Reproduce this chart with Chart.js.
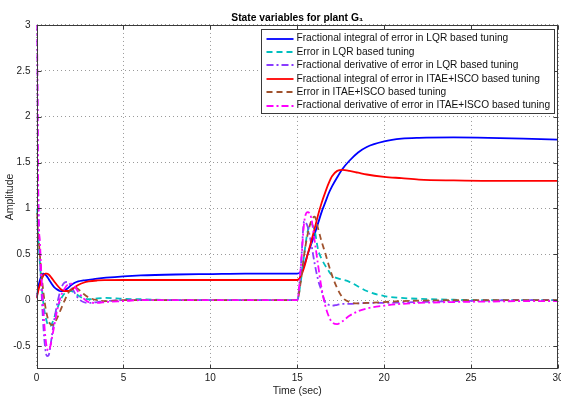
<!DOCTYPE html>
<html><head><meta charset="utf-8">
<script src="https://cdn.jsdelivr.net/npm/chart.js@4"></script>
<style>html,body{margin:0;padding:0;background:#fff;}canvas{display:block;}</style>
</head><body>
<canvas id="c" width="561" height="401"></canvas>
<script>
// time samples (seconds)
const timeSec = [0,0.05,0.1,0.2,0.3,0.4,0.5,0.6,0.7,0.8,0.9,
  1.0,1.2,1.4,1.6,1.8,2.0,2.2,2.4,2.7,3.0,
  3.5,4,5,6,8,10,12,
  15,15.2,15.4,15.6,15.8,16.0,
  16.2,16.4,16.6,16.8,17.0,17.3,17.6,18.0,
  18.5,19,20,21,22,24,26,28,30];

const fiLqr = [0.03,0.08,0.14,0.22,0.27,0.29,0.28,0.26,0.23,0.2,0.17,
  0.145,0.115,0.1,0.105,0.13,0.165,0.19,0.205,0.215,0.222,
  0.235,0.245,0.26,0.27,0.28,0.285,0.29,
  0.29,0.31,0.38,0.5,0.61,0.72,
  0.84,0.96,1.06,1.16,1.24,1.34,1.43,1.52,
  1.61,1.67,1.73,1.76,1.77,1.775,1.77,1.76,1.75];

const eLqr = [1.0,0.84,0.68,0.4,0.15,-0.04,-0.16,-0.24,-0.28,-0.28,-0.25,
  -0.2,-0.09,0.01,0.07,0.1,0.1,0.08,0.05,0.02,0.01,
  0.02,0.025,0.015,0.01,0,0,0,
  0,0.2,0.5,0.75,0.83,0.76,
  0.55,0.45,0.38,0.32,0.27,0.24,0.225,0.2,
  0.15,0.1,0.045,0.025,0.015,0.005,0,0,0];

const fdLqr = [3.5,2.3,1.2,0.45,0.05,-0.3,-0.52,-0.61,-0.6,-0.5,-0.37,
  -0.24,-0.03,0.12,0.19,0.2,0.15,0.08,0.02,-0.02,-0.03,
  -0.02,-0.01,0,0,0,0,0,
  0,0.35,0.86,0.8,0.62,0.4,
  0.22,0.1,-0.02,-0.05,-0.06,-0.05,-0.04,-0.04,
  -0.035,-0.03,-0.03,-0.025,-0.02,-0.01,-0.005,0,0];

const fiItae = [0.02,0.06,0.1,0.17,0.23,0.27,0.29,0.29,0.28,0.26,0.235,
  0.21,0.16,0.12,0.1,0.1,0.115,0.14,0.165,0.19,0.205,
  0.215,0.218,0.22,0.22,0.22,0.22,0.22,
  0.22,0.26,0.36,0.5,0.64,0.78,
  0.93,1.06,1.17,1.27,1.35,1.41,1.42,1.41,
  1.39,1.37,1.345,1.33,1.315,1.305,1.3,1.3,1.3];

const eItae = [0.95,0.85,0.72,0.48,0.26,0.08,-0.06,-0.16,-0.23,-0.26,-0.27,
  -0.26,-0.19,-0.1,-0.01,0.07,0.12,0.14,0.12,0.07,0.03,
  0,-0.01,0,0,0,0,0,
  0,0.2,0.5,0.72,0.86,0.91,
  0.78,0.64,0.52,0.39,0.27,0.13,0.03,-0.02,
  -0.035,-0.03,-0.02,-0.01,-0.005,0,0,0,0];

const fdItae = [3.5,2.5,1.1,0.62,0.2,-0.12,-0.38,-0.52,-0.55,-0.5,-0.4,
  -0.3,-0.1,0.04,0.12,0.17,0.18,0.15,0.09,0.02,-0.02,
  -0.03,-0.02,-0.01,0,0,0,0,
  0,0.35,0.85,0.96,0.9,0.65,
  0.38,0.13,-0.05,-0.17,-0.24,-0.26,-0.23,-0.17,
  -0.12,-0.09,-0.06,-0.04,-0.03,-0.02,-0.015,-0.01,-0.01];

const seriesLabels = [
  'Fractional integral of error in LQR based tuning',
  'Error in LQR based tuning',
  'Fractional derivative of error in LQR based tuning',
  'Fractional integral of error in ITAE+ISCO based tuning',
  'Error in ITAE+ISCO based tuning',
  'Fractional derivative of error in ITAE+ISCO based tuning'
];
const xTicks = [0,5,10,15,20,25,30];
const yTicks = [-0.5,0,0.5,1,1.5,2,2.5,3];
const titleText = 'State variables for plant G\u2081';
const xTitle = 'Time (sec)';
const yTitle = 'Amplitude';

const FONT = '"Liberation Sans", Arial, Helvetica, sans-serif';
const series = [fiLqr, eLqr, fdLqr, fiItae, eItae, fdItae];
const colors = ['#0000ff','#00bfbf','#8a3cff','#ff0000','#a0522d','#ff00ff'];
const dashes = [[],[6,4],[7,3,2,3],[],[6,4],[7,3,2,3]];
const orders = [6,5,4,3,2,1];

const datasets = series.map((vals,i)=>({
  label: seriesLabels[i],
  data: vals.map((v,k)=>({x: timeSec[k], y: v})),
  borderColor: colors[i],
  backgroundColor: colors[i],
  borderDash: dashes[i],
  borderWidth: 1.8,
  pointRadius: 0,
  fill: false,
  cubicInterpolationMode: 'monotone',
  order: orders[i]
}));

const decor = {
  id: 'decor',
  afterDatasetsDraw(chart){
    const {ctx, chartArea:a, scales:{x,y}} = chart;
    ctx.save();
    // frame
    ctx.strokeStyle = '#3a3a3a'; ctx.lineWidth = 1; ctx.setLineDash([]);
    const L = Math.round(a.left)+0.5, R = Math.round(a.right)-0.5, T = Math.round(a.top)+0.5, B = Math.round(a.bottom)-0.5;
    ctx.strokeRect(L, T, R-L, B-T);
    ctx.beginPath();
    xTicks.forEach(v=>{ const px = Math.round(x.getPixelForValue(v))+0.5;
      ctx.moveTo(px,B); ctx.lineTo(px,B-4); ctx.moveTo(px,T); ctx.lineTo(px,T+4); });
    yTicks.forEach(v=>{ const py = Math.round(y.getPixelForValue(v))+0.5;
      ctx.moveTo(L,py); ctx.lineTo(L+4,py); ctx.moveTo(R,py); ctx.lineTo(R-4,py); });
    ctx.stroke();
    // legend
    ctx.font = '10px ' + FONT;
    const base = Math.max(...seriesLabels.map(s=>ctx.measureText(s).width));
    const fs = 10 * 254 / base;
    ctx.font = fs.toFixed(2) + 'px ' + FONT;
    const maxW = Math.max(...seriesLabels.map(s=>ctx.measureText(s).width));
    const boxW = 5 + 27 + 3 + maxW + 5;
    const boxR = Math.round(a.right) - 3.5;
    const boxL = Math.round(boxR - boxW) + 0.5;
    const boxT = Math.round(a.top) + 4.5;
    const rowH = 13.4;
    const boxH = 84;
    ctx.fillStyle = '#fff';
    ctx.fillRect(boxL, boxT, boxR-boxL, boxH);
    ctx.strokeStyle = '#3a3a3a'; ctx.lineWidth = 1;
    ctx.strokeRect(boxL, boxT, boxR-boxL, boxH);
    ctx.textBaseline = 'middle'; ctx.textAlign = 'left';
    seriesLabels.forEach((s,i)=>{
      const cy = boxT + 9 + i*rowH;
      ctx.strokeStyle = colors[i]; ctx.lineWidth = 1.8; ctx.setLineDash(dashes[i]);
      ctx.beginPath(); ctx.moveTo(boxL+5, Math.round(cy)); ctx.lineTo(boxL+32, Math.round(cy)); ctx.stroke();
      ctx.setLineDash([]);
      ctx.fillStyle = '#111';
      ctx.fillText(s, boxL+35, cy);
    });
    ctx.restore();
  }
};

new Chart(document.getElementById('c'), {
  type: 'line',
  data: { datasets },
  plugins: [decor],
  options: {
    responsive: false,
    animation: false,
    events: [],
    layout: { padding: { left: 0, right: 3, top: 0, bottom: 0 } },
    plugins: {
      legend: { display: false },
      tooltip: { enabled: false },
      title: { display: true, text: titleText, color: '#000', fullSize: false,
        font: { family: FONT, size: 10.3, weight: 'bold', lineHeight: 1.2 },
        padding: { top: 11.5, bottom: 1.1 } }
    },
    scales: {
      x: {
        type: 'linear', min: 0, max: 30,
        afterBuildTicks: ax => { ax.ticks = xTicks.map(v=>({value:v})); },
        afterFit: ax => { ax.height = 32; ax.paddingLeft = 0; ax.paddingRight = 0; },
        ticks: { color: '#222', font: { family: FONT, size: 10 }, padding: 3, maxRotation: 0, autoSkip: false,
          callback: v => String(v) },
        grid: { color: '#9a9a9a', lineWidth: 1, drawTicks: false },
        border: { display: false, dash: [1,3] },
        title: { display: true, text: xTitle, color: '#222', font: { family: FONT, size: 10.5 }, padding: { top: 0, bottom: 4 } }
      },
      y: {
        type: 'linear', min: -0.75, max: 3,
        afterBuildTicks: ax => { ax.ticks = yTicks.map(v=>({value:v})); },
        afterFit: ax => { ax.width = 36.5; ax.paddingTop = 0; ax.paddingBottom = 0; },
        ticks: { color: '#222', font: { family: FONT, size: 10 }, padding: 6, autoSkip: false,
          callback: v => String(v) },
        grid: { color: '#9a9a9a', lineWidth: 1, drawTicks: false },
        border: { display: false, dash: [1,3] },
        title: { display: true, text: yTitle, color: '#222', font: { family: FONT, size: 10.5 }, padding: { top: 4, bottom: 0 } }
      }
    }
  }
});
</script>
</body></html>
